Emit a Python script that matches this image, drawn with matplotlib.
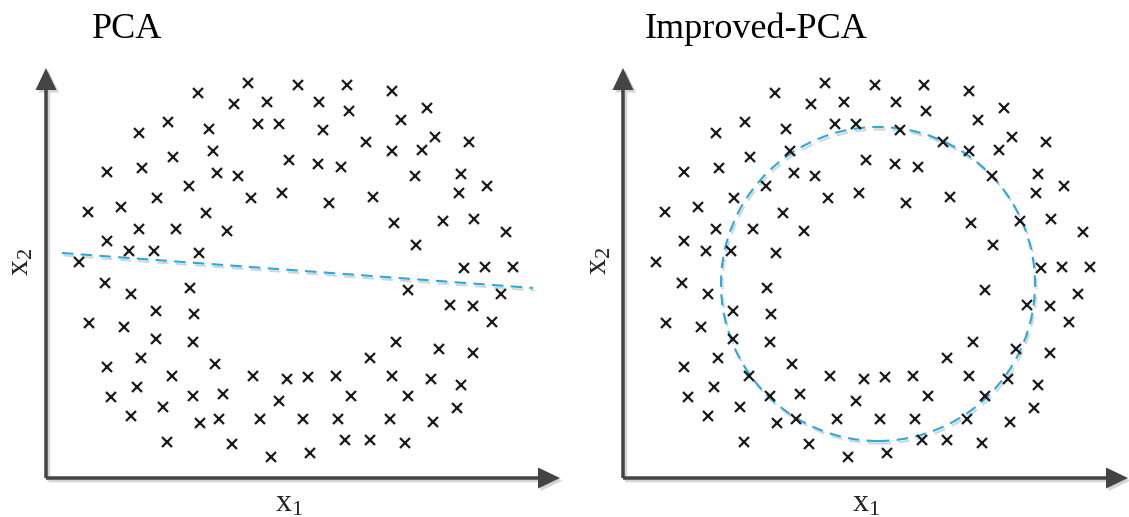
import matplotlib.pyplot as plt
from matplotlib.patches import Circle

plt.rcParams['mathtext.fontset'] = 'custom'
plt.rcParams['mathtext.rm'] = 'Liberation Serif'
plt.rcParams['mathtext.it'] = 'Liberation Serif:italic'

# sample cloud (same points in both panels), units = pixels from the axis corner
xs = [202, 252, 152, 188, 221, 122, 93, 163, 212, 233, 127, 167, 243, 61, 96,
      171, 192, 143, 111, 236, 205, 42, 75, 160, 93, 130, 181, 61, 83, 108,
      153, 33, 59, 144, 85, 301, 346, 273, 303, 381, 355, 277, 320, 346, 376,
      389, 423, 272, 295, 369, 415, 413, 441, 283, 327, 348, 397, 428, 460,
      370, 418, 439, 467, 110, 148, 43, 78, 110, 147, 95, 61, 169, 126, 207,
      241, 91, 65, 147, 177, 233, 117, 85, 154, 173, 214, 257, 121, 186, 225,
      362, 455, 404, 427, 446, 350, 393, 427, 324, 262, 290, 346, 385, 415,
      305, 362, 411, 292, 344, 387, 299, 324, 359, 264]
ys = [395, 393, 385, 374, 376, 356, 345, 349, 354, 354, 321, 327, 318, 306, 310,
      305, 302, 292, 280, 285, 280, 266, 271, 265, 249, 249, 247, 237, 227, 227,
      225, 216, 195, 190, 184, 393, 387, 376, 367, 370, 358, 348, 336, 327, 328,
      341, 336, 314, 311, 302, 304, 285, 292, 275, 281, 255, 257, 259, 246,
      233, 210, 211, 211, 167, 164, 155, 151, 139, 136, 120, 111, 114, 102, 102,
      99, 91, 81, 82, 84, 77, 71, 62, 55, 59, 59, 59, 36, 34, 21,
      188, 184, 173, 172, 156, 136, 129, 125, 120, 101, 102, 102, 99, 93,
      82, 82, 70, 59, 59, 56, 38, 38, 35, 25]

# PCA direction line
pca_x = [16, 487]
pca_y = [225, 190]

# Improved-PCA circle
circ_cx, circ_cy, circ_r = 255, 194, 157

W, H = 1129, 517
fig = plt.figure(figsize=(W / 100, H / 100), dpi=100)

blue = '#2aa8e0'
ink = '#444444'
shade = '#d4d4d4'


def make_axes(left_px, width_px):
    ax = fig.add_axes([left_px / W, 39 / H, width_px / W, 420 / H])
    ax.set_xlim(0, width_px)
    ax.set_ylim(0, 420)
    ax.axis('off')
    # axis arrows with a soft drop shadow
    for dx, dy, col in [(2.5, -2.5, shade), (0, 0, ink)]:
        ax.arrow(dx, dy, width_px - 1, 0, width=3.5, head_width=21,
                 head_length=22, length_includes_head=True, fc=col, ec='none',
                 clip_on=False)
        ax.arrow(dx, dy, 0, 410, width=3.5, head_width=21, head_length=22,
                 length_includes_head=True, fc=col, ec='none', clip_on=False)
    ax.plot(xs, ys, linestyle='none', marker='x', markersize=7.2,
            markeredgewidth=1.6, color='#1a1a1a', zorder=3)
    return ax


ax1 = make_axes(46, 515)
ax2 = make_axes(623, 506)

ax1.plot([x + 1.5 for x in pca_x], [y - 2.5 for y in pca_y], color=shade,
         lw=1.5, dashes=(5.5, 3.5), zorder=1)
ax1.plot(pca_x, pca_y, color=blue, lw=1.5, dashes=(5.5, 3.5), zorder=2)

ax2.add_patch(Circle((circ_cx + 1.5, circ_cy - 2.5), circ_r, fill=False,
                     ec=shade, lw=1.5, linestyle=(0, (5.5, 3.5)), zorder=1))
ax2.add_patch(Circle((circ_cx, circ_cy), circ_r, fill=False, ec=blue,
                     lw=1.5, linestyle=(0, (5.5, 3.5)), zorder=2))


def fig_text(x, y, s, **kw):
    fig.text(x / W, 1 - y / H, s, family='Liberation Serif', **kw)


fig_text(92, 38, 'PCA', fontsize=26, ha='left', va='baseline')
fig_text(645, 38, 'Improved-PCA', fontsize=26, ha='left', va='baseline')
for x0 in (289, 866):
    fig_text(x0, 512, r'$\mathrm{x}_1$', fontsize=23, ha='center',
             va='baseline', color='#222222')
for x0, y0 in ((21, 262), (599, 261)):
    fig_text(x0, y0, r'$\mathrm{x}_2$', fontsize=23, ha='center', va='center',
             rotation=90, color='#222222')

fig.savefig('out.png', dpi=100, facecolor='white')
